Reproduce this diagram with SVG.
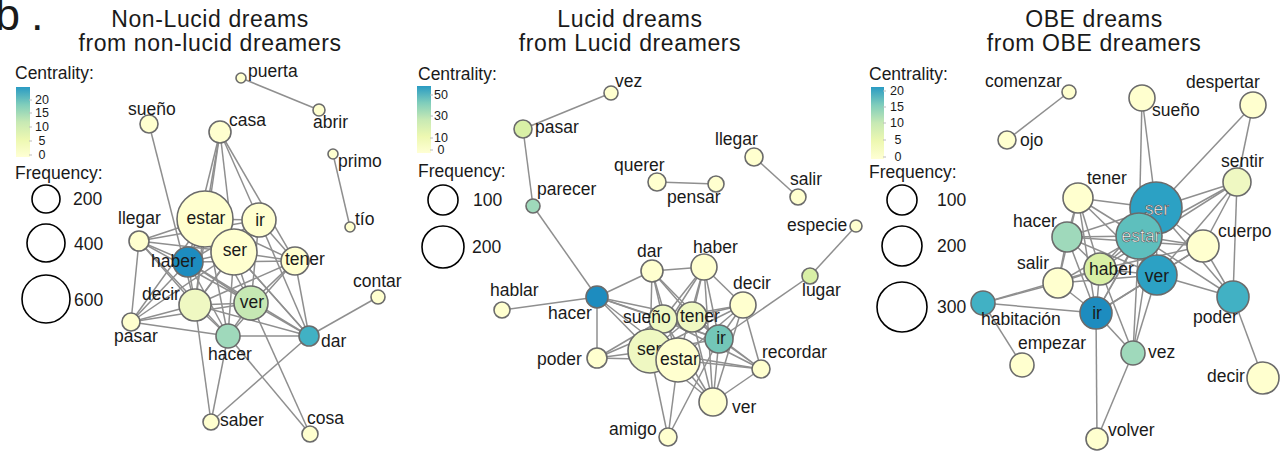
<svg xmlns="http://www.w3.org/2000/svg" width="1287" height="461" viewBox="0 0 1287 461">
  <style>
    text { font-family: "Liberation Sans", Arial, sans-serif; fill: #1a1a1a; }
    .title { font-size: 23px; letter-spacing: 0.6px; text-anchor: middle; }
    .head { font-size: 17.5px; }
    .tick { font-size: 12.5px; text-anchor: middle; }
    .lab { font-size: 17.5px; }
    .mid { text-anchor: middle; }
    .hollow { fill: #ffffff; stroke: #4a4a4a; stroke-width: 0.55px; }
    .edges line { stroke: #8f8f8f; stroke-width: 1.5; }
    .node circle { stroke: #6b6b6b; stroke-width: 1.6; }
    .size { fill: none; stroke: #000; stroke-width: 1.6; }
    .tk { stroke: #bdbdbd; stroke-width: 1; }
    .y0 { fill: #ffffcf; }
    .y1 { fill: #eff8c2; }
    .y2 { fill: #d9f0a6; }
    .g1 { fill: #c6e8b4; }
    .g2 { fill: #9fd9bb; }
    .g3 { fill: #73c6b8; }
    .t1 { fill: #5ebfbd; }
    .t2 { fill: #41b1c4; }
    .b1 { fill: #2ca1c4; }
    .b2 { fill: #1d8cbf; }
  </style>
  <defs>
    <linearGradient id="ylgnbu" x1="0" y1="1" x2="0" y2="0">
      <stop offset="0" stop-color="#ffffd4"/>
      <stop offset="0.25" stop-color="#edf8b1"/>
      <stop offset="0.5" stop-color="#c7e9b4"/>
      <stop offset="0.75" stop-color="#7fcdbb"/>
      <stop offset="1" stop-color="#2a9bc3"/>
    </linearGradient>
  </defs>

  <text x="-5" y="30" style="font-size:45px">b<tspan x="31">.</tspan></text>

  <!-- ===== Panel 1: Non-Lucid ===== -->
  <g id="panel1-title">
    <text class="title" x="210" y="26.5">Non-Lucid dreams</text>
    <text class="title" x="210" y="50.5">from non-lucid dreamers</text>
  </g>
  <g id="panel1-legend">
    <text class="head" x="15" y="79">Centrality:</text>
    <rect x="16" y="87" width="14" height="70" fill="url(#ylgnbu)"/>
    <line class="tk" x1="29" y1="100" x2="32" y2="100"/>
    <line class="tk" x1="29" y1="113" x2="32" y2="113"/>
    <line class="tk" x1="29" y1="127" x2="32" y2="127"/>
    <line class="tk" x1="29" y1="141" x2="32" y2="141"/>
    <line class="tk" x1="29" y1="155" x2="32" y2="155"/>
    <text class="tick" x="42" y="104">20</text>
    <text class="tick" x="42" y="117">15</text>
    <text class="tick" x="42" y="131">10</text>
    <text class="tick" x="42" y="145">5</text>
    <text class="tick" x="42" y="159">0</text>
    <text class="head" x="15" y="179">Frequency:</text>
    <circle class="size" cx="46" cy="199" r="14"/>
    <text class="head" x="73" y="205">200</text>
    <circle class="size" cx="46" cy="243" r="19"/>
    <text class="head" x="74" y="250">400</text>
    <circle class="size" cx="46" cy="299" r="24"/>
    <text class="head" x="74" y="306">600</text>
  </g>
  <g id="panel1-edges" class="edges">
    <line x1="241" y1="78" x2="319" y2="110"/>
    <line x1="333" y1="154" x2="350" y2="227"/>
    <line x1="149" y1="124" x2="195" y2="305"/>
    <line x1="220" y1="132" x2="205" y2="219"/>
    <line x1="220" y1="132" x2="188" y2="262"/>
    <line x1="220" y1="132" x2="195" y2="305"/>
    <line x1="220" y1="132" x2="234" y2="252"/>
    <line x1="220" y1="132" x2="259" y2="220"/>
    <line x1="220" y1="132" x2="295" y2="261"/>
    <line x1="139" y1="241" x2="205" y2="219"/>
    <line x1="139" y1="241" x2="188" y2="262"/>
    <line x1="139" y1="241" x2="234" y2="252"/>
    <line x1="139" y1="241" x2="259" y2="220"/>
    <line x1="139" y1="241" x2="195" y2="305"/>
    <line x1="139" y1="241" x2="131" y2="322"/>
    <line x1="139" y1="241" x2="251" y2="303"/>
    <line x1="139" y1="241" x2="228" y2="336"/>
    <line x1="205" y1="219" x2="259" y2="220"/>
    <line x1="205" y1="219" x2="234" y2="252"/>
    <line x1="205" y1="219" x2="188" y2="262"/>
    <line x1="205" y1="219" x2="195" y2="305"/>
    <line x1="205" y1="219" x2="251" y2="303"/>
    <line x1="205" y1="219" x2="295" y2="261"/>
    <line x1="205" y1="219" x2="228" y2="336"/>
    <line x1="205" y1="219" x2="131" y2="322"/>
    <line x1="205" y1="219" x2="309" y2="336"/>
    <line x1="259" y1="220" x2="234" y2="252"/>
    <line x1="259" y1="220" x2="295" y2="261"/>
    <line x1="259" y1="220" x2="188" y2="262"/>
    <line x1="259" y1="220" x2="251" y2="303"/>
    <line x1="259" y1="220" x2="309" y2="336"/>
    <line x1="259" y1="220" x2="195" y2="305"/>
    <line x1="234" y1="252" x2="188" y2="262"/>
    <line x1="234" y1="252" x2="295" y2="261"/>
    <line x1="234" y1="252" x2="195" y2="305"/>
    <line x1="234" y1="252" x2="251" y2="303"/>
    <line x1="234" y1="252" x2="228" y2="336"/>
    <line x1="234" y1="252" x2="309" y2="336"/>
    <line x1="234" y1="252" x2="131" y2="322"/>
    <line x1="188" y1="262" x2="195" y2="305"/>
    <line x1="188" y1="262" x2="251" y2="303"/>
    <line x1="188" y1="262" x2="228" y2="336"/>
    <line x1="188" y1="262" x2="131" y2="322"/>
    <line x1="188" y1="262" x2="309" y2="336"/>
    <line x1="188" y1="262" x2="295" y2="261"/>
    <line x1="295" y1="261" x2="251" y2="303"/>
    <line x1="295" y1="261" x2="195" y2="305"/>
    <line x1="295" y1="261" x2="309" y2="336"/>
    <line x1="295" y1="261" x2="228" y2="336"/>
    <line x1="195" y1="305" x2="251" y2="303"/>
    <line x1="195" y1="305" x2="228" y2="336"/>
    <line x1="195" y1="305" x2="131" y2="322"/>
    <line x1="195" y1="305" x2="309" y2="336"/>
    <line x1="195" y1="305" x2="211" y2="422"/>
    <line x1="251" y1="303" x2="228" y2="336"/>
    <line x1="251" y1="303" x2="309" y2="336"/>
    <line x1="251" y1="303" x2="131" y2="322"/>
    <line x1="251" y1="303" x2="310" y2="434"/>
    <line x1="131" y1="322" x2="228" y2="336"/>
    <line x1="228" y1="336" x2="309" y2="336"/>
    <line x1="228" y1="336" x2="211" y2="422"/>
    <line x1="228" y1="336" x2="310" y2="434"/>
    <line x1="309" y1="336" x2="211" y2="422"/>
    <line x1="309" y1="336" x2="378" y2="297"/>
  </g>
  <g id="p1-puerta" class="node"><circle class="y0" cx="241" cy="78" r="5"/><text class="lab" x="248" y="77">puerta</text></g>
  <g id="p1-abrir" class="node"><circle class="y0" cx="319" cy="110" r="6"/><text class="lab" x="313" y="128">abrir</text></g>
  <g id="p1-primo" class="node"><circle class="y0" cx="333" cy="154" r="5"/><text class="lab" x="338" y="167">primo</text></g>
  <g id="p1-tio" class="node"><circle class="y0" cx="350" cy="227" r="5"/><text class="lab" x="355" y="225">tío</text></g>
  <g id="p1-sueno" class="node"><circle class="y0" cx="149" cy="124" r="9"/><text class="lab" x="128" y="115">sueño</text></g>
  <g id="p1-casa" class="node"><circle class="y0" cx="220" cy="132" r="11"/><text class="lab" x="229" y="126">casa</text></g>
  <g id="p1-llegar" class="node"><circle class="y0" cx="139" cy="241" r="10"/><text class="lab" x="118" y="224">llegar</text></g>
  <g id="p1-estar" class="node"><circle class="y0" cx="205" cy="219" r="28"/><text class="lab mid" x="206" y="224">estar</text></g>
  <g id="p1-ir" class="node"><circle class="y0" cx="259" cy="220" r="17"/><text class="lab mid" x="260" y="226">ir</text></g>
  <g id="p1-ser" class="node"><circle class="y0" cx="234" cy="252" r="23"/><text class="lab mid" x="235" y="256">ser</text></g>
  <g id="p1-haber" class="node"><circle class="b2" cx="188" cy="262" r="15"/><text class="lab" x="151" y="267">haber</text></g>
  <g id="p1-tener" class="node"><circle class="y0" cx="295" cy="261" r="14"/><text class="lab" x="285" y="265">tener</text></g>
  <g id="p1-decir" class="node"><circle class="y1" cx="195" cy="305" r="16"/><text class="lab" x="142" y="300">decir</text></g>
  <g id="p1-ver" class="node"><circle class="g1" cx="251" cy="303" r="17"/><text class="lab mid" x="252" y="308">ver</text></g>
  <g id="p1-pasar" class="node"><circle class="y0" cx="131" cy="322" r="9"/><text class="lab" x="114" y="342">pasar</text></g>
  <g id="p1-hacer" class="node"><circle class="g2" cx="228" cy="336" r="12"/><text class="lab" x="208" y="360">hacer</text></g>
  <g id="p1-dar" class="node"><circle class="t2" cx="309" cy="336" r="10"/><text class="lab" x="321" y="347">dar</text></g>
  <g id="p1-contar" class="node"><circle class="y0" cx="378" cy="297" r="7"/><text class="lab" x="353" y="287">contar</text></g>
  <g id="p1-saber" class="node"><circle class="y0" cx="211" cy="422" r="8"/><text class="lab" x="220" y="426">saber</text></g>
  <g id="p1-cosa" class="node"><circle class="y0" cx="310" cy="434" r="8"/><text class="lab" x="307" y="424">cosa</text></g>

  <!-- ===== Panel 2: Lucid ===== -->
  <g id="panel2-title">
    <text class="title" x="630" y="26.5">Lucid dreams</text>
    <text class="title" x="630" y="50.5">from Lucid dreamers</text>
  </g>
  <g id="panel2-legend">
    <text class="head" x="418" y="80">Centrality:</text>
    <rect x="417" y="86" width="14" height="67" fill="url(#ylgnbu)"/>
    <line class="tk" x1="430" y1="95" x2="433" y2="95"/>
    <line class="tk" x1="430" y1="116" x2="433" y2="116"/>
    <line class="tk" x1="430" y1="138" x2="433" y2="138"/>
    <line class="tk" x1="430" y1="150" x2="433" y2="150"/>
    <text class="tick" x="441" y="99">50</text>
    <text class="tick" x="441" y="120">30</text>
    <text class="tick" x="441" y="142">10</text>
    <text class="tick" x="441" y="154">0</text>
    <text class="head" x="418" y="177">Frequency:</text>
    <circle class="size" cx="443" cy="200" r="15"/>
    <text class="head" x="473" y="206">100</text>
    <circle class="size" cx="443" cy="247" r="21"/>
    <text class="head" x="472" y="253">200</text>
  </g>
  <g id="panel2-edges" class="edges">
    <line x1="611" y1="93" x2="523" y2="129"/>
    <line x1="523" y1="129" x2="533" y2="206"/>
    <line x1="533" y1="206" x2="597" y2="297"/>
    <line x1="657" y1="182" x2="716" y2="184"/>
    <line x1="754" y1="157" x2="798" y2="197"/>
    <line x1="856" y1="226" x2="810" y2="276"/>
    <line x1="810" y1="276" x2="719" y2="339"/>
    <line x1="502" y1="310" x2="597" y2="297"/>
    <line x1="597" y1="297" x2="652" y2="271"/>
    <line x1="597" y1="297" x2="597" y2="358"/>
    <line x1="597" y1="297" x2="663" y2="319"/>
    <line x1="597" y1="297" x2="692" y2="317"/>
    <line x1="597" y1="297" x2="650" y2="351"/>
    <line x1="597" y1="297" x2="678" y2="360"/>
    <line x1="597" y1="297" x2="719" y2="339"/>
    <line x1="652" y1="271" x2="704" y2="267"/>
    <line x1="652" y1="271" x2="663" y2="319"/>
    <line x1="652" y1="271" x2="692" y2="317"/>
    <line x1="652" y1="271" x2="650" y2="351"/>
    <line x1="652" y1="271" x2="678" y2="360"/>
    <line x1="652" y1="271" x2="719" y2="339"/>
    <line x1="704" y1="267" x2="663" y2="319"/>
    <line x1="704" y1="267" x2="692" y2="317"/>
    <line x1="704" y1="267" x2="650" y2="351"/>
    <line x1="704" y1="267" x2="678" y2="360"/>
    <line x1="704" y1="267" x2="719" y2="339"/>
    <line x1="704" y1="267" x2="743" y2="305"/>
    <line x1="704" y1="267" x2="713" y2="402"/>
    <line x1="743" y1="305" x2="692" y2="317"/>
    <line x1="743" y1="305" x2="663" y2="319"/>
    <line x1="743" y1="305" x2="719" y2="339"/>
    <line x1="743" y1="305" x2="650" y2="351"/>
    <line x1="743" y1="305" x2="678" y2="360"/>
    <line x1="743" y1="305" x2="761" y2="369"/>
    <line x1="743" y1="305" x2="713" y2="402"/>
    <line x1="663" y1="319" x2="692" y2="317"/>
    <line x1="663" y1="319" x2="719" y2="339"/>
    <line x1="663" y1="319" x2="597" y2="358"/>
    <line x1="663" y1="319" x2="713" y2="402"/>
    <line x1="663" y1="319" x2="761" y2="369"/>
    <line x1="692" y1="317" x2="650" y2="351"/>
    <line x1="692" y1="317" x2="719" y2="339"/>
    <line x1="692" y1="317" x2="597" y2="358"/>
    <line x1="692" y1="317" x2="713" y2="402"/>
    <line x1="692" y1="317" x2="761" y2="369"/>
    <line x1="719" y1="339" x2="650" y2="351"/>
    <line x1="719" y1="339" x2="761" y2="369"/>
    <line x1="719" y1="339" x2="713" y2="402"/>
    <line x1="719" y1="339" x2="668" y2="437"/>
    <line x1="650" y1="351" x2="597" y2="358"/>
    <line x1="650" y1="351" x2="668" y2="437"/>
    <line x1="650" y1="351" x2="713" y2="402"/>
    <line x1="650" y1="351" x2="761" y2="369"/>
    <line x1="678" y1="360" x2="597" y2="358"/>
    <line x1="678" y1="360" x2="668" y2="437"/>
    <line x1="678" y1="360" x2="713" y2="402"/>
    <line x1="678" y1="360" x2="761" y2="369"/>
    <line x1="761" y1="369" x2="713" y2="402"/>
  </g>
  <g id="p2-vez" class="node"><circle class="y0" cx="611" cy="93" r="7"/><text class="lab" x="615" y="87">vez</text></g>
  <g id="p2-pasar" class="node"><circle class="y2" cx="523" cy="129" r="9"/><text class="lab" x="535" y="133">pasar</text></g>
  <g id="p2-parecer" class="node"><circle class="g2" cx="533" cy="206" r="7"/><text class="lab" x="537" y="195">parecer</text></g>
  <g id="p2-querer" class="node"><circle class="y0" cx="657" cy="182" r="9"/><text class="lab" x="614" y="171">querer</text></g>
  <g id="p2-pensar" class="node"><circle class="y0" cx="716" cy="184" r="8"/><text class="lab" x="667" y="203">pensar</text></g>
  <g id="p2-llegar" class="node"><circle class="y0" cx="754" cy="157" r="9"/><text class="lab" x="715" y="145">llegar</text></g>
  <g id="p2-salir" class="node"><circle class="y0" cx="798" cy="197" r="8"/><text class="lab" x="790" y="185">salir</text></g>
  <g id="p2-especie" class="node"><text class="lab" x="787" y="231">especie</text><circle class="y0" cx="856" cy="226" r="6"/></g>
  <g id="p2-lugar" class="node"><circle class="y2" cx="810" cy="276" r="8"/><text class="lab" x="802" y="296">lugar</text></g>
  <g id="p2-hablar" class="node"><circle class="y0" cx="502" cy="310" r="8"/><text class="lab" x="490" y="296">hablar</text></g>
  <g id="p2-hacer" class="node"><circle class="b2" cx="597" cy="297" r="11"/><text class="lab" x="548" y="319">hacer</text></g>
  <g id="p2-dar" class="node"><circle class="y0" cx="652" cy="271" r="11"/><text class="lab" x="637" y="257">dar</text></g>
  <g id="p2-haber" class="node"><circle class="y0" cx="704" cy="267" r="13"/><text class="lab" x="693" y="253">haber</text></g>
  <g id="p2-decir" class="node"><circle class="y0" cx="743" cy="305" r="13"/><text class="lab" x="733" y="289">decir</text></g>
  <g id="p2-sueno" class="node"><circle class="y1" cx="663" cy="319" r="14"/><text class="lab" x="623" y="323">sueño</text></g>
  <g id="p2-tener" class="node"><circle class="y1" cx="692" cy="317" r="15"/><text class="lab" x="680" y="322">tener</text></g>
  <g id="p2-ir" class="node"><circle class="g3" cx="719" cy="339" r="14"/><text class="lab mid" x="721" y="344">ir</text></g>
  <g id="p2-ser" class="node"><circle class="y1" cx="650" cy="351" r="22"/><text class="lab" x="637" y="355">ser</text></g>
  <g id="p2-estar" class="node"><circle class="y0" cx="678" cy="360" r="22"/><text class="lab" x="660" y="365">estar</text></g>
  <g id="p2-poder" class="node"><circle class="y0" cx="597" cy="358" r="10"/><text class="lab" x="537" y="365">poder</text></g>
  <g id="p2-recordar" class="node"><circle class="y0" cx="761" cy="369" r="9"/><text class="lab" x="762" y="358">recordar</text></g>
  <g id="p2-ver" class="node"><circle class="y0" cx="713" cy="402" r="14"/><text class="lab" x="732" y="413">ver</text></g>
  <g id="p2-amigo" class="node"><circle class="y0" cx="668" cy="437" r="9"/><text class="lab" x="609" y="435">amigo</text></g>

  <!-- ===== Panel 3: OBE ===== -->
  <g id="panel3-title">
    <text class="title" x="1094" y="26.5">OBE dreams</text>
    <text class="title" x="1094" y="50.5">from OBE dreamers</text>
  </g>
  <g id="panel3-legend">
    <text class="head" x="869" y="80">Centrality:</text>
    <rect x="871" y="87" width="13" height="72" fill="url(#ylgnbu)"/>
    <line class="tk" x1="883" y1="91" x2="886" y2="91"/>
    <line class="tk" x1="883" y1="107" x2="886" y2="107"/>
    <line class="tk" x1="883" y1="123" x2="886" y2="123"/>
    <line class="tk" x1="883" y1="140" x2="886" y2="140"/>
    <line class="tk" x1="883" y1="157" x2="886" y2="157"/>
    <text class="tick" x="897" y="95">20</text>
    <text class="tick" x="897" y="111">15</text>
    <text class="tick" x="897" y="127">10</text>
    <text class="tick" x="898" y="144">5</text>
    <text class="tick" x="898" y="161">0</text>
    <text class="head" x="869" y="178">Frequency:</text>
    <circle class="size" cx="902" cy="200" r="15"/>
    <text class="head" x="937" y="206">100</text>
    <circle class="size" cx="902" cy="246" r="20"/>
    <text class="head" x="937" y="252">200</text>
    <circle class="size" cx="902" cy="307" r="25"/>
    <text class="head" x="937" y="313">300</text>
  </g>
  <g id="panel3-edges" class="edges">
    <line x1="1069" y1="92" x2="1007" y2="140"/>
    <line x1="1142" y1="98" x2="1156" y2="208"/>
    <line x1="1142" y1="98" x2="1139" y2="236"/>
    <line x1="1253" y1="105" x2="1156" y2="208"/>
    <line x1="1253" y1="105" x2="1237" y2="182"/>
    <line x1="1237" y1="182" x2="1156" y2="208"/>
    <line x1="1237" y1="182" x2="1139" y2="236"/>
    <line x1="1237" y1="182" x2="1203" y2="246"/>
    <line x1="1237" y1="182" x2="1157" y2="275"/>
    <line x1="1237" y1="182" x2="1233" y2="297"/>
    <line x1="1237" y1="182" x2="1100" y2="269"/>
    <line x1="1078" y1="198" x2="1156" y2="208"/>
    <line x1="1078" y1="198" x2="1139" y2="236"/>
    <line x1="1078" y1="198" x2="1067" y2="237"/>
    <line x1="1078" y1="198" x2="1100" y2="269"/>
    <line x1="1078" y1="198" x2="1058" y2="283"/>
    <line x1="1078" y1="198" x2="1096" y2="313"/>
    <line x1="1078" y1="198" x2="1157" y2="275"/>
    <line x1="1067" y1="237" x2="1156" y2="208"/>
    <line x1="1067" y1="237" x2="1139" y2="236"/>
    <line x1="1067" y1="237" x2="1100" y2="269"/>
    <line x1="1067" y1="237" x2="1058" y2="283"/>
    <line x1="1067" y1="237" x2="1096" y2="313"/>
    <line x1="1067" y1="237" x2="1157" y2="275"/>
    <line x1="1067" y1="237" x2="1203" y2="246"/>
    <line x1="1156" y1="208" x2="1139" y2="236"/>
    <line x1="1156" y1="208" x2="1203" y2="246"/>
    <line x1="1156" y1="208" x2="1157" y2="275"/>
    <line x1="1156" y1="208" x2="1100" y2="269"/>
    <line x1="1156" y1="208" x2="1233" y2="297"/>
    <line x1="1156" y1="208" x2="1096" y2="313"/>
    <line x1="1156" y1="208" x2="1133" y2="353"/>
    <line x1="1139" y1="236" x2="1203" y2="246"/>
    <line x1="1139" y1="236" x2="1100" y2="269"/>
    <line x1="1139" y1="236" x2="1157" y2="275"/>
    <line x1="1139" y1="236" x2="1096" y2="313"/>
    <line x1="1139" y1="236" x2="1058" y2="283"/>
    <line x1="1139" y1="236" x2="1233" y2="297"/>
    <line x1="1139" y1="236" x2="1133" y2="353"/>
    <line x1="1203" y1="246" x2="1157" y2="275"/>
    <line x1="1203" y1="246" x2="1233" y2="297"/>
    <line x1="1203" y1="246" x2="1100" y2="269"/>
    <line x1="1203" y1="246" x2="1096" y2="313"/>
    <line x1="1058" y1="283" x2="1100" y2="269"/>
    <line x1="1058" y1="283" x2="983" y2="303"/>
    <line x1="1058" y1="283" x2="1096" y2="313"/>
    <line x1="1058" y1="283" x2="1157" y2="275"/>
    <line x1="1100" y1="269" x2="1157" y2="275"/>
    <line x1="1100" y1="269" x2="1096" y2="313"/>
    <line x1="1100" y1="269" x2="983" y2="303"/>
    <line x1="1100" y1="269" x2="1133" y2="353"/>
    <line x1="1157" y1="275" x2="1096" y2="313"/>
    <line x1="1157" y1="275" x2="1233" y2="297"/>
    <line x1="1157" y1="275" x2="1133" y2="353"/>
    <line x1="983" y1="303" x2="1096" y2="313"/>
    <line x1="983" y1="303" x2="1022" y2="365"/>
    <line x1="1096" y1="313" x2="1133" y2="353"/>
    <line x1="1096" y1="313" x2="1097" y2="439"/>
    <line x1="1133" y1="353" x2="1097" y2="439"/>
    <line x1="1233" y1="297" x2="1263" y2="378"/>
  </g>
  <g id="p3-comenzar" class="node"><circle class="y0" cx="1069" cy="92" r="7"/><text class="lab" x="985" y="87">comenzar</text></g>
  <g id="p3-ojo" class="node"><circle class="y0" cx="1007" cy="140" r="9"/><text class="lab" x="1020" y="146">ojo</text></g>
  <g id="p3-sueno" class="node"><circle class="y0" cx="1142" cy="98" r="13"/><text class="lab" x="1152" y="116">sueño</text></g>
  <g id="p3-despertar" class="node"><circle class="y0" cx="1253" cy="105" r="13"/><text class="lab" x="1186" y="88">despertar</text></g>
  <g id="p3-sentir" class="node"><circle class="y1" cx="1237" cy="182" r="14"/><text class="lab" x="1221" y="167">sentir</text></g>
  <g id="p3-tener" class="node"><circle class="y0" cx="1078" cy="198" r="15"/><text class="lab" x="1087" y="184">tener</text></g>
  <g id="p3-ser" class="node"><circle class="b1" cx="1156" cy="208" r="26"/><text class="lab mid hollow" x="1157" y="215">ser</text></g>
  <g id="p3-estar" class="node"><circle class="t1" cx="1139" cy="236" r="23"/><text class="lab mid hollow" x="1141" y="242">estar</text></g>
  <g id="p3-hacer" class="node"><circle class="g2" cx="1067" cy="237" r="15"/><text class="lab" x="1013" y="227">hacer</text></g>
  <g id="p3-cuerpo" class="node"><circle class="y0" cx="1203" cy="246" r="16"/><text class="lab" x="1218" y="237">cuerpo</text></g>
  <g id="p3-salir" class="node"><circle class="y0" cx="1058" cy="283" r="15"/><text class="lab" x="1017" y="269">salir</text></g>
  <g id="p3-haber" class="node"><circle class="y2" cx="1100" cy="269" r="16"/><text class="lab" x="1089" y="275">haber</text></g>
  <g id="p3-ver" class="node"><circle class="b1" cx="1157" cy="275" r="20"/><text class="lab mid" x="1157" y="282">ver</text></g>
  <g id="p3-poder" class="node"><circle class="t2" cx="1233" cy="297" r="16"/><text class="lab" x="1193" y="323">poder</text></g>
  <g id="p3-habitacion" class="node"><circle class="t2" cx="983" cy="303" r="12"/><text class="lab" x="981" y="325">habitación</text></g>
  <g id="p3-ir" class="node"><circle class="b2" cx="1096" cy="313" r="16"/><text class="lab mid" x="1097" y="319">ir</text></g>
  <g id="p3-empezar" class="node"><circle class="y0" cx="1022" cy="365" r="12"/><text class="lab" x="1018" y="349">empezar</text></g>
  <g id="p3-vez" class="node"><circle class="g2" cx="1133" cy="353" r="12"/><text class="lab" x="1148" y="358">vez</text></g>
  <g id="p3-decir" class="node"><circle class="y0" cx="1263" cy="378" r="16"/><text class="lab" x="1207" y="382">decir</text></g>
  <g id="p3-volver" class="node"><circle class="y0" cx="1097" cy="439" r="11"/><text class="lab" x="1108" y="436">volver</text></g>
</svg>
